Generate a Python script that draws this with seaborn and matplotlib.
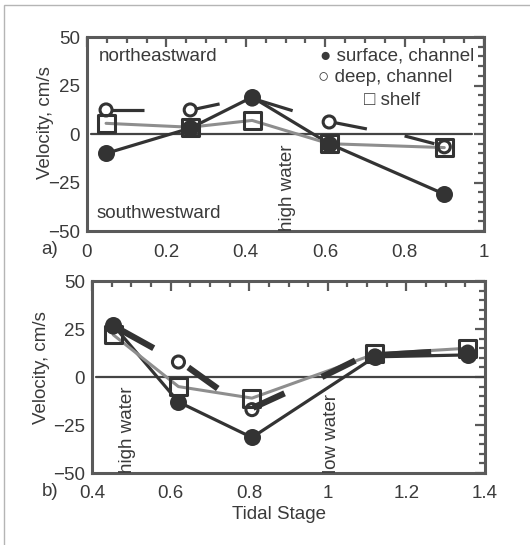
import matplotlib
matplotlib.use("Agg")
import matplotlib.pyplot as plt
import seaborn as sns
import pandas as pd
from matplotlib.ticker import MultipleLocator
from matplotlib.patches import Rectangle

# ---------------- data (panel a) ----------------
a_stage = [0.048, 0.26, 0.416, 0.61, 0.90]
a_surface = [-10, 3, 19, -5, -31]
a_shelf = [5.5, 3.5, 7, -5, -7]
a_deep = [12.4, 12.4, 18, 6.2, -6.6]
# deep channel direction sticks (start x, start v, end x, end v)
a_stick_x0 = [0.062, 0.272, 0.43, 0.625, 0.80]
a_stick_v0 = [12.4, 12.8, 17.5, 5.8, -1]
a_stick_x1 = [0.143, 0.334, 0.518, 0.705, 0.875]
a_stick_v1 = [12.4, 15.5, 12, 2.6, -5]

# ---------------- data (panel b) ----------------
b_stage = [0.454, 0.62, 0.807, 1.12, 1.356]
b_surface = [27, -13, -31.5, 10.5, 11.5]
b_shelf = [22, -5, -11, 12, 15]
b_deep_x = [0.454, 0.62, 0.807, 1.12, 1.356]
b_deep = [26, 7.8, -17, 11, 13]
b_stick_x0 = [0.46, 0.645, 0.81, 0.985, 1.14]
b_stick_v0 = [26, 5, -16, 0, 11.5]
b_stick_x1 = [0.557, 0.72, 0.89, 1.07, 1.263]
b_stick_v1 = [15, -6, -8.5, 8.6, 13]

x_ticks_a = [0, 0.2, 0.4, 0.6, 0.8, 1]
x_ticks_b = [0.4, 0.6, 0.8, 1, 1.2, 1.4]
y_ticks = [-50, -25, 0, 25, 50]

sns.set_theme(style="white")
plt.rcParams['font.family'] = ['Liberation Sans', 'DejaVu Sans']
TXT = '#3a3a3a'
DARK = '#333333'
GRAY = '#8e8e8e'
SPINE = '#5a5a5a'

fig = plt.figure(figsize=(5.3, 5.45), dpi=100)
fig.patches.append(Rectangle((4/530, -0.5), 2.0, 1 - 5/545 + 0.5,
                             transform=fig.transFigure, fill=False,
                             edgecolor='#b5b5b5', linewidth=1.0))

ax1 = fig.add_axes([87/530, 1 - 231/545, (484 - 87)/530, (231 - 37)/545])
ax2 = fig.add_axes([92/530, 1 - 473/545, (485 - 92)/530, (473 - 281)/545])


def style_axis(ax, xlim, xticks, xlabels):
    ax.set_xlim(*xlim)
    ax.set_ylim(-50, 50)
    ax.set_xticks(xticks)
    ax.set_xticklabels(xlabels)
    ax.set_yticks(y_ticks)
    ax.xaxis.set_minor_locator(MultipleLocator(0.05))
    ax.yaxis.set_minor_locator(MultipleLocator(5))
    ax.tick_params(which='both', direction='in', top=True, right=True,
                   color=SPINE, labelcolor=TXT, labelsize=13.5, width=1.6)
    ax.tick_params(which='major', length=7, pad=5)
    ax.tick_params(axis='x', which='major', pad=9)
    ax.tick_params(which='minor', length=4)
    for s in ax.spines.values():
        s.set_color(SPINE)
        s.set_linewidth(2.2)
    ax.grid(False)


def draw_panel(ax, stage, surface, shelf, deep_x, deep, sx0, sv0, sx1, sv1, stick_lw, hl_xmax):
    ax.axhline(0, xmin=0.01, xmax=hl_xmax, color='#444444', lw=1.6, zorder=1)
    df = pd.DataFrame({'stage': stage, 'surface': surface, 'shelf': shelf})
    sns.lineplot(data=df, x='stage', y='surface', ax=ax, color=DARK, lw=2.3,
                 sort=False, zorder=2)
    sns.lineplot(data=df, x='stage', y='shelf', ax=ax, color=GRAY, lw=2.2,
                 sort=False, zorder=3)
    sns.scatterplot(data=df, x='stage', y='shelf', ax=ax, marker='s', s=150,
                    facecolor='none', edgecolor=DARK, linewidth=2.2, zorder=4)
    sns.scatterplot(data=df, x='stage', y='surface', ax=ax, marker='o', s=150,
                    color=DARK, edgecolor=DARK, linewidth=0, zorder=5)
    dd = pd.DataFrame({'x': deep_x, 'v': deep})
    sns.scatterplot(data=dd, x='x', y='v', ax=ax, marker='o', s=75,
                    facecolor='none', edgecolor=DARK, linewidth=2.2, zorder=6)
    for x0, v0, x1, v1 in zip(sx0, sv0, sx1, sv1):
        ax.plot([x0, x1], [v0, v1], color=DARK, lw=stick_lw,
                solid_capstyle='butt', zorder=6)
    ax.set_xlabel('')


draw_panel(ax1, a_stage, a_surface, a_shelf, a_stage, a_deep,
           a_stick_x0, a_stick_v0, a_stick_x1, a_stick_v1, 2.3, 0.97)
draw_panel(ax2, b_stage, b_surface, b_shelf, b_deep_x, b_deep,
           b_stick_x0, b_stick_v0, b_stick_x1, b_stick_v1, 4.5, 1.0)

style_axis(ax1, (0, 1), x_ticks_a, ['0', '0.2', '0.4', '0.6', '0.8', '1'])
style_axis(ax2, (0.4, 1.4), x_ticks_b, ['0.4', '0.6', '0.8', '1', '1.2', '1.4'])
ax1.set_ylabel('Velocity, cm/s', fontsize=13.5, color=TXT)
ax2.set_ylabel('Velocity, cm/s', fontsize=13.5, color=TXT)
ax1.yaxis.set_label_coords(-0.084, 0.56)
ax2.yaxis.set_label_coords(-0.108, 0.55)
ax2.set_xlabel('Tidal Stage', fontsize=13.5, color=TXT)
ax2.xaxis.set_label_coords(0.476, -0.17)

# annotations panel a
ax1.text(0.03, 40, 'northeastward', fontsize=13.5, color=TXT, va='center')
ax1.text(0.025, -41, 'southwestward', fontsize=13.5, color=TXT, va='center')
ax1.text(0.505, -50, 'high water', rotation=90, fontsize=13.5, color=TXT,
         ha='center', va='bottom')
ax1.text(0.975, 40, '\u25cf surface, channel', fontsize=13.5, color=TXT,
         ha='right', va='center', transform=ax1.get_yaxis_transform())
ax1.text(0.92, 29, '\u25cb deep, channel', fontsize=13.5, color=TXT,
         ha='right', va='center', transform=ax1.get_yaxis_transform())
ax1.text(0.84, 17.5, '\u25a1 shelf', fontsize=13.5, color=TXT,
         ha='right', va='center', transform=ax1.get_yaxis_transform())

# annotations panel b
ax2.text(0.49, -50, 'high water', rotation=90, fontsize=13.5, color=TXT,
         ha='center', va='bottom')
ax2.text(1.01, -50, 'low water', rotation=90, fontsize=13.5, color=TXT,
         ha='center', va='bottom')

fig.text(50/530, 1 - 249/545, 'a)', fontsize=13.5, color=TXT, ha='center', va='center')
fig.text(50/530, 1 - 491/545, 'b)', fontsize=13.5, color=TXT, ha='center', va='center')

fig.savefig('out.png', dpi=100)
